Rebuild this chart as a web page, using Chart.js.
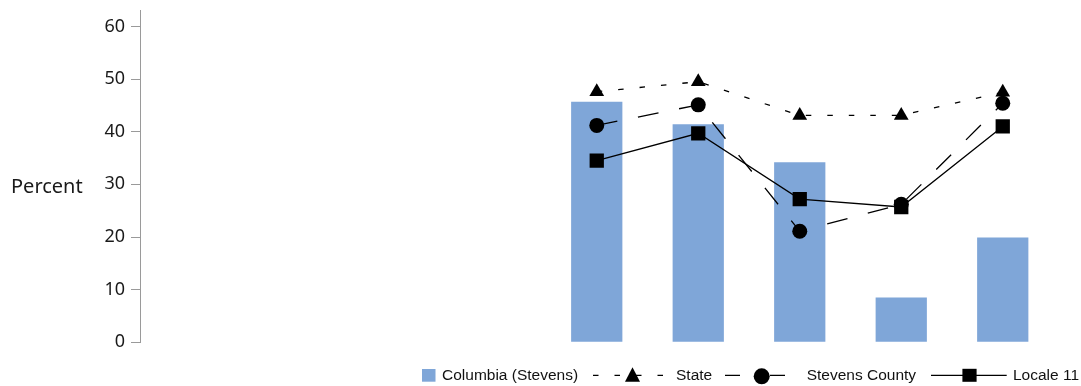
<!DOCTYPE html>
<html>
<head>
<meta charset="utf-8">
<script src="https://cdn.jsdelivr.net/npm/chart.js@4/dist/chart.umd.min.js"></script>
<style>
  html, body { margin: 0; padding: 0; background: #fff; }
  #wrap { width: 1081px; height: 386px; }
</style>
</head>
<body>
<div id="wrap"><canvas id="chart" width="1081" height="386"></canvas></div>
<script>
// data
const categories = ['', '', '', '', '', '', '', '', ''];
const columbiaValues = [null, null, null, null, 45.7, 41.4, 34.2, 8.5, 19.9];
const stateValues    = [null, null, null, null, 47.6, 49.5, 43.1, 43.1, 47.5];
const stevensValues  = [null, null, null, null, 41.2, 45.1, 21.1, 26.2, 45.4];
const localeValues   = [null, null, null, null, 34.5, 39.7, 27.2, 25.7, 41.0];
const yTickValues = [0, 10, 20, 30, 40, 50, 60];
const seriesNames = ['Columbia (Stevens)', 'State', 'Stevens County', 'Locale 11'];
const yTitle = 'Percent';

const barBlue = '#7fa6d8';
const axisGrey = '#9a9a9a';

// horizontal "Percent" label (chart.js always rotates the y title)
const yTitlePlugin = {
  id: 'yTitleFlat',
  afterDraw(chart) {
    const c = chart.ctx;
    c.save();
    c.font = '20px "Noto Sans"';
    c.fillStyle = '#1a1a1a';
    c.textAlign = 'left';
    c.textBaseline = 'alphabetic';
    c.fillText(yTitle, 11, 193);
    c.restore();
  }
};

// legend row at the bottom, symbols built from the dataset styles
const legendPlugin = {
  id: 'bottomLegend',
  afterDraw(chart) {
    const c = chart.ctx;
    const ds = chart.data.datasets;
    const cy = 375.3;
    c.save();
    // bar swatch
    c.fillStyle = ds[0].backgroundColor;
    c.fillRect(422, 369, 13.5, 12.7);
    // line swatches: [lineStart, lineEnd, markerX, dash]
    const items = [
      [593, 664, 632.5, [5.5, 16]],
      [725, 787, 761.7, [15, 30]],
      [931, 1006.7, 969.5, []]
    ];
    items.forEach((it, i) => {
      const d = ds[i + 1];
      c.strokeStyle = d.borderColor;
      c.lineWidth = d.borderWidth;
      c.setLineDash(it[3]);
      c.beginPath();
      c.moveTo(it[0], cy);
      c.lineTo(it[1], cy);
      c.stroke();
      c.setLineDash([]);
      c.fillStyle = d.pointBackgroundColor;
      const x = it[2];
      c.beginPath();
      if (d.pointStyle === 'triangle') {
        c.moveTo(x, cy - 8);
        c.lineTo(x + 7.5, cy + 6.5);
        c.lineTo(x - 7.5, cy + 6.5);
        c.closePath();
      } else if (d.pointStyle === 'circle') {
        c.arc(x, cy + 1, 8, 0, Math.PI * 2);
      } else {
        c.rect(x - 7.1, cy - 6.5, 14.2, 13);
      }
      c.fill();
    });
    c.font = '15.5px "Liberation Sans", Arial, sans-serif';
    c.fillStyle = '#111';
    c.textBaseline = 'alphabetic';
    const textX = [442, 676, 806.7, 1013];
    seriesNames.forEach((n, i) => c.fillText(n, textX[i], 380));
    c.restore();
  }
};

new Chart(document.getElementById('chart'), {
  type: 'bar',
  data: {
    labels: categories,
    datasets: [
      {
        label: seriesNames[0],
        data: columbiaValues,
        backgroundColor: barBlue,
        borderWidth: 0,
        barPercentage: 0.505,
        categoryPercentage: 1,
        order: 4
      },
      {
        type: 'line',
        label: seriesNames[1],
        data: stateValues,
        borderColor: '#000',
        borderWidth: 1.3,
        borderDash: [5.5, 16],
        pointStyle: 'triangle',
        pointRadius: 8.5,
        pointBorderWidth: 0,
        pointBackgroundColor: '#000',
        fill: false,
        order: 1
      },
      {
        type: 'line',
        label: seriesNames[2],
        data: stevensValues,
        borderColor: '#000',
        borderWidth: 1.3,
        borderDash: [21, 21],
        pointStyle: 'circle',
        pointRadius: 7.5,
        pointBorderWidth: 0,
        pointBackgroundColor: '#000',
        fill: false,
        order: 2
      },
      {
        type: 'line',
        label: seriesNames[3],
        data: localeValues,
        borderColor: '#000',
        borderWidth: 1.3,
        pointStyle: 'rect',
        pointRadius: 10.1,
        pointBorderWidth: 0,
        pointBackgroundColor: '#000',
        fill: false,
        order: 3
      }
    ]
  },
  options: {
    responsive: false,
    animation: false,
    layout: { padding: { top: 6, bottom: 43.7, left: 0, right: 27.5 } },
    plugins: {
      legend: { display: false },
      tooltip: { enabled: false }
    },
    scales: {
      x: {
        display: false,
        offset: true
      },
      y: {
        min: 0,
        max: 63.1,
        border: { color: axisGrey, width: 1 },
        grid: { drawOnChartArea: false, drawTicks: true, tickLength: 9, color: axisGrey },
        ticks: {
          stepSize: 10,
          includeBounds: false,
          padding: 6,
          color: '#1a1a1a',
          font: { family: '"Noto Sans"', size: 18 }
        },
        afterBuildTicks(scale) {
          scale.ticks = scale.ticks.filter(t => yTickValues.some(v => Math.abs(v - t.value) < 1e-6));
        },
        afterFit(scale) {
          scale.width = 140;
          scale.paddingTop = 0;
          scale.paddingBottom = 0;
        }
      }
    }
  },
  plugins: [yTitlePlugin, legendPlugin]
});
</script>
</body>
</html>
